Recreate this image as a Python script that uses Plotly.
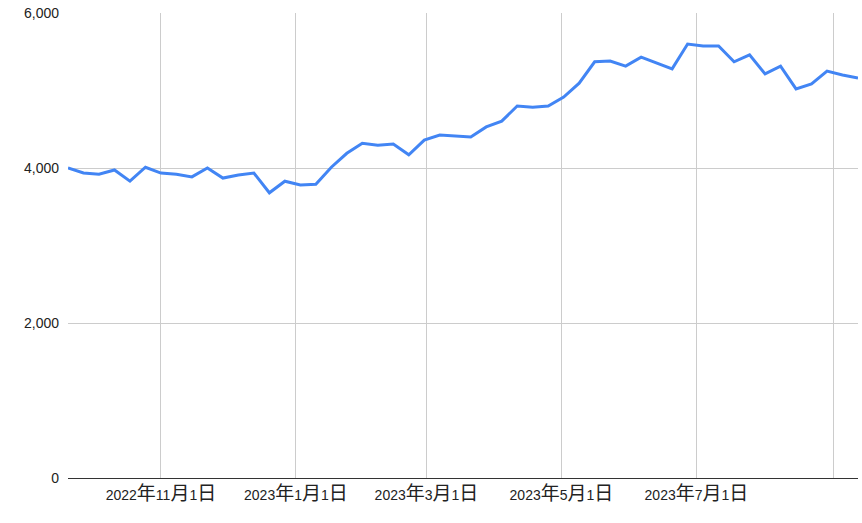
import pandas as pd
import plotly.graph_objects as go

dates = pd.date_range("2022-09-20", periods=52, freq="7D")
values = [4000, 3935, 3920, 3975, 3830, 4010, 3935, 3920, 3885, 4000,
          3870, 3910, 3935, 3680, 3830, 3780, 3790, 4010, 4190, 4320,
          4295, 4310, 4170, 4360, 4425, 4415, 4400, 4530, 4605, 4800,
          4785, 4800, 4915, 5095, 5370, 5380, 5315, 5430, 5355, 5280,
          5600, 5575, 5575, 5370, 5460, 5215, 5315, 5020, 5085, 5250,
          5200, 5160]

x_tick_vals = ["2022-11-01", "2023-01-01", "2023-03-01", "2023-05-01", "2023-07-01", "2023-09-01"]
x_tick_text = ["2022年11月1日", "2023年1月1日", "2023年3月1日", "2023年5月1日", "2023年7月1日", ""]
y_tick_vals = [0, 2000, 4000, 6000]
y_tick_text = ["0", "2,000", "4,000", "6,000"]


def widen_cjk(label):
    out = ""
    for ch in label:
        if ch in "年月日":
            out += "<span style='font-size:19px'>" + ch + "</span>"
        else:
            out += ch
    return out


fig = go.Figure()
fig.add_trace(go.Scatter(x=dates, y=values, mode="lines",
                         line=dict(color="#4285F4", width=3), hoverinfo="x+y"))

font_family = "Arial, 'Liberation Sans', 'Noto Sans CJK JP', sans-serif"
fig.update_layout(
    width=862, height=523,
    margin=dict(l=68, r=4, t=13, b=45),
    paper_bgcolor="white", plot_bgcolor="white",
    showlegend=False,
    font=dict(family=font_family, size=14, color="#222222"),
    xaxis=dict(
        range=[dates[0], dates[-1]],
        tickmode="array", tickvals=x_tick_vals,
        ticktext=[widen_cjk(t) for t in x_tick_text],
        showgrid=True, gridcolor="#cccccc", gridwidth=1,
        showline=True, linecolor="#333333", linewidth=1,
        zeroline=False, ticks="", ticklabelstandoff=4, automargin=False,
        ticklabeloverflow="allow",
        tickfont=dict(size=14, color="#222222"),
    ),
    yaxis=dict(
        range=[0, 6000],
        tickmode="array", tickvals=y_tick_vals, ticktext=y_tick_text,
        showgrid=True, gridcolor="#cccccc", gridwidth=1,
        zeroline=False, showline=False, ticks="", ticklabelstandoff=8,
        automargin=False, ticklabeloverflow="allow",
        tickfont=dict(size=14, color="#222222"),
    ),
)

fig.write_html("out.html", config={"displayModeBar": False},
               post_script="document.body.style.margin='0px';document.body.style.overflow='hidden';")
